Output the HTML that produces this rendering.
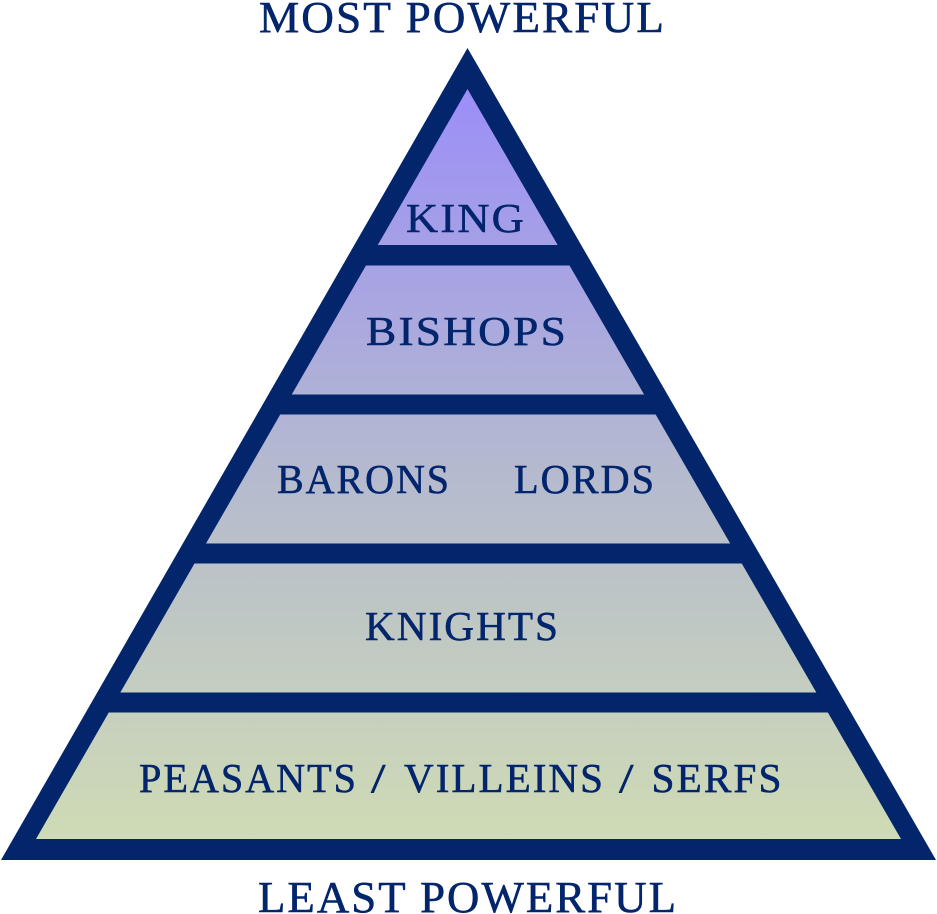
<!DOCTYPE html>
<html><head><meta charset="utf-8"><style>
html,body{margin:0;padding:0;background:#fff}
svg{display:block}
text{font-family:"Liberation Serif",serif;fill:#03256c;stroke:#03256c;stroke-width:.55px;font-size:41px;letter-spacing:2px}
.h{font-size:44px;letter-spacing:2px}
</style></head><body>
<svg width="937" height="914" viewBox="0 0 937 914" xmlns="http://www.w3.org/2000/svg">
<defs><linearGradient id="g" gradientUnits="userSpaceOnUse" x1="0" y1="89" x2="0" y2="839">
<stop offset="0" stop-color="#9b8ef8"/><stop offset="0.5" stop-color="#b4b9cf"/><stop offset="1" stop-color="#cfdbb5"/></linearGradient></defs>
<polygon points="467.5,48 936,860 1,860" fill="#03256c"/>
<polygon points="467.5,89 901,839 36,839" fill="url(#g)"/>
<rect x="355" y="245" width="225" height="20.5" fill="#03256c"/>
<rect x="270" y="394.5" width="395" height="20" fill="#03256c"/>
<rect x="185" y="543.5" width="565" height="20" fill="#03256c"/>
<rect x="100" y="692.5" width="735" height="20" fill="#03256c"/>
<text class="h" x="259" y="32" textLength="407" lengthAdjust="spacingAndGlyphs">MOST POWERFUL</text>
<text x="406" y="232" textLength="120" lengthAdjust="spacingAndGlyphs">KING</text>
<text x="366" y="345" textLength="202" lengthAdjust="spacingAndGlyphs">BISHOPS</text>
<text x="277" y="493" textLength="174" lengthAdjust="spacingAndGlyphs">BARONS</text>
<text x="514" y="493" textLength="142" lengthAdjust="spacingAndGlyphs">LORDS</text>
<text x="365" y="640" textLength="195" lengthAdjust="spacingAndGlyphs">KNIGHTS</text>
<text x="139" y="792" textLength="219" lengthAdjust="spacingAndGlyphs">PEASANTS</text>
<text x="371" y="792" textLength="17" lengthAdjust="spacingAndGlyphs">/</text>
<text x="404" y="792" textLength="201" lengthAdjust="spacingAndGlyphs">VILLEINS</text>
<text x="619" y="792" textLength="17" lengthAdjust="spacingAndGlyphs">/</text>
<text x="651.5" y="792" textLength="132" lengthAdjust="spacingAndGlyphs">SERFS</text>
<text class="h" x="258" y="912" textLength="420" lengthAdjust="spacingAndGlyphs">LEAST POWERFUL</text>
</svg>
</body></html>
